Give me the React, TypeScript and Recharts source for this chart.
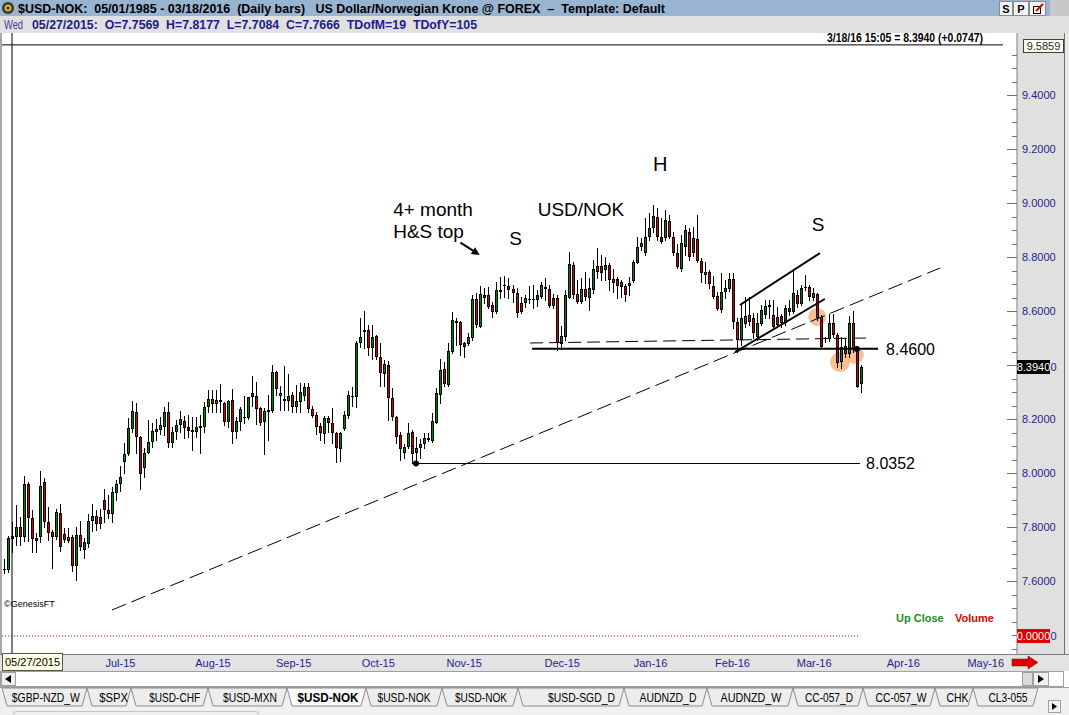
import React from "react";
import { ComposedChart, Bar, XAxis, YAxis, ReferenceLine, ReferenceDot } from "recharts";

// ---------------- DATA ----------------
const dates = [
  "5/25/15","5/26/15","5/27/15","5/28/15","5/29/15","6/1/15","6/2/15","6/3/15","6/4/15","6/5/15",
  "6/8/15","6/9/15","6/10/15","6/11/15","6/12/15","6/15/15","6/16/15","6/17/15","6/18/15","6/19/15",
  "6/22/15","6/23/15","6/24/15","6/25/15","6/26/15","6/29/15","6/30/15","7/1/15","7/2/15","7/3/15",
  "7/6/15","7/7/15","7/8/15","7/9/15","7/10/15","7/13/15","7/14/15","7/15/15","7/16/15","7/17/15",
  "7/20/15","7/21/15","7/22/15","7/23/15","7/24/15","7/27/15","7/28/15","7/29/15","7/30/15","7/31/15",
  "8/3/15","8/4/15","8/5/15","8/6/15","8/7/15","8/10/15","8/11/15","8/12/15","8/13/15","8/14/15",
  "8/17/15","8/18/15","8/19/15","8/20/15","8/21/15","8/24/15","8/25/15","8/26/15","8/27/15","8/28/15",
  "8/31/15","9/1/15","9/2/15","9/3/15","9/4/15","9/7/15","9/8/15","9/9/15","9/10/15","9/11/15",
  "9/14/15","9/15/15","9/16/15","9/17/15","9/18/15","9/21/15","9/22/15","9/23/15","9/24/15","9/25/15",
  "9/28/15","9/29/15","9/30/15","10/1/15","10/2/15","10/5/15","10/6/15","10/7/15","10/8/15","10/9/15",
  "10/12/15","10/13/15","10/14/15","10/15/15","10/16/15","10/19/15","10/20/15","10/21/15","10/22/15","10/23/15",
  "10/26/15","10/27/15","10/28/15","10/29/15","10/30/15","11/2/15","11/3/15","11/4/15","11/5/15","11/6/15",
  "11/9/15","11/10/15","11/11/15","11/12/15","11/13/15","11/16/15","11/17/15","11/18/15","11/19/15","11/20/15",
  "11/23/15","11/24/15","11/25/15","11/26/15","11/27/15","11/30/15","12/1/15","12/2/15","12/3/15","12/4/15",
  "12/7/15","12/8/15","12/9/15","12/10/15","12/11/15","12/14/15","12/15/15","12/16/15","12/17/15","12/18/15",
  "12/21/15","12/22/15","12/23/15","12/24/15","12/28/15","12/29/15","12/30/15","12/31/15","1/4/16","1/5/16",
  "1/6/16","1/7/16","1/8/16","1/11/16","1/12/16","1/13/16","1/14/16","1/15/16","1/18/16","1/19/16",
  "1/20/16","1/21/16","1/22/16","1/25/16","1/26/16","1/27/16","1/28/16","1/29/16","2/1/16","2/2/16",
  "2/3/16","2/4/16","2/5/16","2/8/16","2/9/16","2/10/16","2/11/16","2/12/16","2/15/16","2/16/16",
  "2/17/16","2/18/16","2/19/16","2/21/16","2/22/16","2/23/16","2/24/16","2/25/16","2/26/16","2/28/16",
  "2/29/16","3/1/16","3/2/16","3/3/16","3/4/16","3/7/16","3/8/16","3/9/16","3/10/16","3/11/16",
  "3/14/16","3/15/16","3/16/16","3/17/16","3/18/16"
];

const opens = [
  7.641,7.640,7.7569,7.764,7.799,7.764,7.959,7.832,7.749,7.764,
  7.965,7.820,7.780,7.762,7.851,7.773,7.749,7.764,7.656,7.770,
  7.715,7.737,7.823,7.841,7.810,7.900,7.863,7.847,7.925,7.959,
  8.042,8.070,8.163,8.225,8.135,8.017,8.075,8.116,8.153,8.161,
  8.172,8.225,8.110,8.153,8.176,8.193,8.172,8.159,8.153,8.175,
  8.169,8.243,8.274,8.254,8.270,8.258,8.190,8.270,8.153,8.190,
  8.203,8.202,8.280,8.286,8.240,8.190,8.227,8.230,8.373,8.295,
  8.268,8.268,8.288,8.245,8.264,8.286,8.317,8.236,8.215,8.174,
  8.143,8.202,8.187,8.147,8.088,8.162,8.211,8.283,8.283,8.480,
  8.524,8.529,8.462,8.507,8.428,8.365,8.400,8.276,8.206,8.141,
  8.073,8.095,8.153,8.073,8.091,8.107,8.131,8.120,8.186,8.289,
  8.384,8.326,8.449,8.564,8.561,8.480,8.478,8.499,8.643,8.542,
  8.647,8.659,8.622,8.597,8.678,8.693,8.693,8.680,8.665,8.631,
  8.628,8.645,8.641,8.641,8.653,8.680,8.680,8.650,8.650,8.478,
  8.505,8.650,8.770,8.663,8.635,8.680,8.650,8.678,8.746,8.767,
  8.752,8.770,8.717,8.717,8.688,8.693,8.693,8.712,8.779,8.836,
  8.813,8.873,8.906,8.947,8.875,8.869,8.934,8.875,8.814,8.754,
  8.838,8.894,8.869,8.865,8.786,8.733,8.746,8.693,8.656,8.604,
  8.672,8.680,8.717,8.560,8.493,8.553,8.585,8.573,8.505,8.552,
  8.585,8.616,8.585,8.548,8.581,8.557,8.598,8.598,8.659,8.626,
  8.684,8.690,8.647,8.662,8.577,8.496,8.495,8.554,8.511,8.412,
  8.470,8.440,8.554,8.460,8.330
];

const highs = [
  7.680,7.765,7.8177,7.881,7.836,7.989,7.968,7.863,7.777,8.007,
  7.980,7.875,7.789,7.866,7.885,7.795,7.795,7.770,7.801,7.823,
  7.758,7.850,7.884,7.863,7.865,7.940,7.918,7.949,7.974,8.026,
  8.110,8.202,8.267,8.258,8.137,8.091,8.196,8.186,8.199,8.206,
  8.246,8.262,8.172,8.196,8.231,8.211,8.215,8.209,8.206,8.215,
  8.264,8.307,8.307,8.307,8.330,8.264,8.270,8.311,8.209,8.246,
  8.285,8.283,8.359,8.338,8.246,8.239,8.289,8.400,8.379,8.322,
  8.396,8.366,8.301,8.326,8.332,8.332,8.332,8.248,8.227,8.184,
  8.211,8.211,8.242,8.153,8.153,8.231,8.305,8.317,8.490,8.573,
  8.600,8.548,8.548,8.511,8.483,8.418,8.416,8.313,8.211,8.153,
  8.107,8.184,8.159,8.135,8.125,8.147,8.147,8.221,8.314,8.421,
  8.412,8.480,8.597,8.573,8.564,8.486,8.520,8.659,8.665,8.693,
  8.684,8.688,8.634,8.709,8.725,8.730,8.721,8.696,8.684,8.653,
  8.659,8.693,8.696,8.678,8.709,8.721,8.696,8.663,8.659,8.545,
  8.678,8.820,8.783,8.715,8.721,8.746,8.721,8.789,8.832,8.807,
  8.801,8.776,8.754,8.727,8.715,8.700,8.727,8.789,8.875,8.869,
  8.943,8.964,8.992,8.980,8.943,8.974,8.955,8.894,8.848,8.881,
  8.919,8.906,8.912,8.955,8.795,8.783,8.752,8.730,8.672,8.739,
  8.715,8.739,8.739,8.573,8.622,8.653,8.653,8.591,8.591,8.622,
  8.641,8.641,8.641,8.616,8.589,8.622,8.641,8.754,8.678,8.696,
  8.733,8.696,8.684,8.665,8.585,8.505,8.589,8.589,8.520,8.505,
  8.500,8.580,8.601,8.470,8.400
];

const lows = [
  7.628,7.634,7.7084,7.733,7.733,7.749,7.749,7.709,7.709,7.746,
  7.801,7.752,7.647,7.754,7.712,7.746,7.746,7.638,7.604,7.715,
  7.684,7.727,7.786,7.789,7.795,7.820,7.832,7.820,7.900,7.934,
  8.001,8.067,8.153,8.073,7.940,7.986,8.073,8.098,8.122,8.144,
  8.141,8.095,8.095,8.125,8.153,8.128,8.135,8.085,8.135,8.075,
  8.153,8.227,8.227,8.227,8.227,8.178,8.172,8.112,8.128,8.159,
  8.184,8.199,8.248,8.181,8.178,8.070,8.122,8.227,8.289,8.233,
  8.233,8.233,8.227,8.227,8.227,8.270,8.227,8.206,8.144,8.122,
  8.112,8.153,8.110,8.042,8.046,8.159,8.202,8.248,8.243,8.468,
  8.462,8.437,8.421,8.421,8.322,8.322,8.196,8.196,8.110,8.050,
  8.054,8.091,8.038,8.0352,8.054,8.091,8.120,8.116,8.184,8.261,
  8.322,8.322,8.443,8.474,8.437,8.428,8.474,8.493,8.542,8.539,
  8.628,8.610,8.579,8.591,8.647,8.653,8.647,8.635,8.576,8.591,
  8.616,8.628,8.610,8.619,8.647,8.641,8.616,8.610,8.456,8.458,
  8.493,8.647,8.647,8.628,8.628,8.641,8.604,8.666,8.721,8.715,
  8.715,8.678,8.672,8.647,8.653,8.638,8.659,8.709,8.776,8.826,
  8.807,8.863,8.894,8.863,8.851,8.863,8.869,8.807,8.758,8.749,
  8.807,8.789,8.804,8.783,8.709,8.703,8.684,8.647,8.604,8.598,
  8.647,8.675,8.536,8.450,8.474,8.542,8.548,8.499,8.493,8.548,
  8.573,8.573,8.536,8.542,8.540,8.548,8.585,8.591,8.616,8.622,
  8.678,8.641,8.641,8.567,8.465,8.487,8.490,8.505,8.394,8.388,
  8.430,8.430,8.450,8.317,8.301
];

const closes = [
  7.643,7.760,7.7666,7.799,7.764,7.959,7.832,7.754,7.760,7.952,
  7.820,7.779,7.762,7.854,7.727,7.752,7.764,7.656,7.770,7.725,
  7.743,7.822,7.841,7.810,7.836,7.863,7.850,7.928,7.959,7.984,
  8.069,8.165,8.230,8.132,7.995,8.075,8.116,8.155,8.163,8.178,
  8.227,8.110,8.153,8.178,8.200,8.168,8.157,8.153,8.169,8.168,
  8.246,8.273,8.256,8.270,8.262,8.190,8.267,8.153,8.193,8.236,
  8.209,8.280,8.295,8.236,8.184,8.229,8.233,8.373,8.310,8.286,
  8.274,8.285,8.243,8.267,8.301,8.317,8.236,8.211,8.169,8.147,
  8.202,8.186,8.147,8.091,8.147,8.215,8.289,8.286,8.483,8.502,
  8.529,8.462,8.502,8.431,8.372,8.402,8.276,8.206,8.135,8.088,
  8.098,8.147,8.070,8.091,8.107,8.131,8.122,8.194,8.295,8.381,
  8.330,8.453,8.567,8.557,8.474,8.468,8.502,8.643,8.548,8.662,
  8.659,8.616,8.597,8.678,8.672,8.696,8.678,8.665,8.594,8.597,
  8.647,8.641,8.646,8.659,8.696,8.688,8.619,8.619,8.480,8.507,
  8.659,8.773,8.659,8.635,8.680,8.653,8.684,8.754,8.767,8.739,
  8.770,8.715,8.705,8.693,8.709,8.659,8.705,8.783,8.836,8.851,
  8.873,8.906,8.952,8.875,8.857,8.937,8.875,8.814,8.764,8.853,
  8.900,8.799,8.814,8.786,8.739,8.746,8.700,8.653,8.606,8.672,
  8.686,8.717,8.560,8.493,8.573,8.581,8.560,8.520,8.557,8.604,
  8.619,8.622,8.540,8.577,8.554,8.610,8.610,8.665,8.626,8.684,
  8.690,8.653,8.668,8.573,8.468,8.500,8.554,8.511,8.406,8.468,
  8.440,8.554,8.460,8.320,8.394
];

const monthLabels = ["Jul-15","Aug-15","Sep-15","Oct-15","Nov-15","Dec-15","Jan-16","Feb-16","Mar-16","Apr-16","May-16"];
const monthTickPos = [29.09, 52.2, 72.35, 93.48, 114.94, 139.41, 161.47, 181.94, 202.35, 224.6, 245.2];
const majorPriceTicks = [7.6, 7.8, 8.0, 8.2, 8.4, 8.6, 8.8, 9.0, 9.2, 9.4];
const tabNames = ["$GBP-NZD_W","$SPX","$USD-CHF","$USD-MXN","$USD-NOK","$USD-NOK","$USD-NOK","$USD-SGD_D","AUDNZD_D","AUDNZD_W","CC-057_D","CC-057_W","CHK","CL3-055"];

// ---------------- LAYOUT CONSTANTS ----------------
const N_SLOTS = 253;
const Y_MIN = 7.325926;
const Y_MAX = 9.62963;
const LAST_PRICE = 8.394;
const tabEdges = [2, 87, 131, 208, 287, 366, 442, 518, 624, 707, 793, 863, 935, 973, 1038];
const tabTextCenter = [45.8, 113.7, 174.7, 250, 328, 404, 481, 581.5, 668, 751, 829, 901, 957.5, 1008];
const tabTextWidth = [68, 29, 51, 54, 61, 53, 52, 67, 57, 61, 48, 51, 22, 39];
const minorTicks = Array.from({ length: 45 }, (_, k) => +(7.35 + k * 0.05).toFixed(2));

const chartData = Array.from({ length: N_SLOTS }, (_, i) =>
  i < dates.length
    ? { i, date: dates[i], o: opens[i], h: highs[i], l: lows[i], c: closes[i], range: [lows[i], highs[i]] }
    : { i, date: "", o: null, h: null, l: null, c: null, range: null }
);

const FONT = "Arial, 'Liberation Sans', sans-serif";

function Candle(props: any) {
  const { x, y, width, height, payload } = props;
  if (!payload || payload.h == null || x == null || y == null) return <g />;
  const top = Math.min(y, y + height);
  const bot = Math.max(y, y + height);
  const span = payload.h - payload.l;
  const toPx = (p: number) => (span > 0 ? top + ((payload.h - p) / span) * (bot - top) : top);
  const cx = Math.round(x + width / 2 - 0.5) + 0.5;
  const up = payload.c >= payload.o;
  const bTop = Math.round(toPx(Math.max(payload.o, payload.c)));
  const bBot = Math.round(toPx(Math.min(payload.o, payload.c)));
  const color = up ? "#008000" : "#D00000";
  const h = bBot - bTop;
  return (
    <g>
      <line x1={cx} x2={cx} y1={Math.round(top)} y2={Math.round(bot) + 1} stroke="#000" strokeWidth={1} />
      {h >= 2 ? (
        <rect x={cx - 1} y={bTop + 0.5} width={2} height={h - 1} fill={color} stroke="#000" strokeWidth={1} />
      ) : (
        <line x1={cx - 1.5} x2={cx + 1.5} y1={bTop + 0.5} y2={bTop + 0.5} stroke="#000" strokeWidth={1} />
      )}
    </g>
  );
}

function YTick(props: any) {
  const { x, y, payload } = props;
  const v = payload.value;
  const major = majorPriceTicks.some((m) => Math.abs(m - v) < 1e-6);
  const hidden = Math.abs(v - 8.4) < 1e-6; // covered by the last-price box
  const yy = Math.round(y) + 0.5;
  return (
    <g>
      <line x1={x - (major ? 10 : 5)} x2={x} y1={yy} y2={yy} stroke="#707070" strokeWidth={1} />
      {major && !hidden && (
        <text x={x + 5} y={y + 4} fontSize={11} fill="#23238C" fontFamily={FONT}>
          {v.toFixed(4)}
        </text>
      )}
    </g>
  );
}

const monthShape = (txt: string) => (p: any) => (
  <text x={p.cx} y={p.cy + 11.5} textAnchor="middle" fontSize={11} fill="#23238C" fontFamily={FONT}>
    {txt}
  </text>
);

const textShape = (txt: string, size: number, anchor: string = "middle") => (p: any) => (
  <text x={p.cx} y={p.cy} fontSize={size} textAnchor={anchor} dominantBaseline="central" fontFamily={FONT} fill="#000">
    {txt}
  </text>
);

const lastPriceShape = (p: any) => (
  <g>
    <rect x={1017} y={Math.round(p.cy) - 7} width={33} height={14} fill="#000" />
    <text x={1033.5} y={Math.round(p.cy) + 4} fontSize={11} textAnchor="middle" fontFamily={FONT} fill="#fff">
      {LAST_PRICE.toFixed(4)}
    </text>
    <text x={1050.5} y={Math.round(p.cy) + 4} fontSize={11} fontFamily={FONT} fill="#23238C">0</text>
  </g>
);

function ArrowShape(p: any) {
  const { x1, y1, x2, y2 } = p;
  if (x1 == null) return <g />;
  const ang = Math.atan2(y2 - y1, x2 - x1);
  const L = 8, W = 4;
  const bx = x2 - L * Math.cos(ang), by = y2 - L * Math.sin(ang);
  const px = -Math.sin(ang) * W, py = Math.cos(ang) * W;
  return (
    <g>
      <line x1={x1} y1={y1} x2={bx} y2={by} stroke="#000" strokeWidth={2} />
      <polygon points={`${x2},${y2} ${bx + px},${by + py} ${bx - px},${by - py}`} fill="#000" />
    </g>
  );
}

const orangeDot = (p: any) => <circle cx={p.cx} cy={p.cy} r={p.r} fill="#F6A868" fillOpacity={0.72} />;
const blackDot = (p: any) => <circle cx={p.cx} cy={p.cy} r={3} fill="#000" />;

export default function App() {
  const ax = { xAxisId: "num", yAxisId: "p" } as any;
  return (
    <div style={{ position: "absolute", left: 0, top: 0, width: 1069, height: 715, overflow: "hidden", background: "#fff", fontFamily: FONT }}>
      {/* ---------- chrome background ---------- */}
      <svg width={1069} height={715} style={{ position: "absolute", left: 0, top: 0 }}>
        <rect x={0} y={0} width={1069} height={16} fill="#99B4D1" />
        <circle cx={8} cy={8} r={6} fill="#3A3420" />
        <circle cx={8} cy={8} r={3.5} fill="#D9B24A" />
        <circle cx={8} cy={8} r={1.5} fill="#3A3420" />
        <text x={18} y={12.5} fontSize={13} fontWeight="bold" fontFamily={FONT} fill="#000" textLength={647} lengthAdjust="spacingAndGlyphs" style={{ whiteSpace: "pre" }}>
          {"$USD-NOK:  05/01/1985 - 03/18/2016  (Daily bars)   US Dollar/Norwegian Krone @ FOREX  \u2013  Template: Default"}
        </text>
        <rect x={999.5} y={1.5} width={13} height={14} fill="#F4F4F4" stroke="#8A8A8A" />
        <text x={1006} y={12.5} fontSize={11} fontWeight="bold" textAnchor="middle" fontFamily={FONT}>S</text>
        <rect x={1013.5} y={1.5} width={15} height={14} fill="#F4F4F4" stroke="#8A8A8A" />
        <text x={1021} y={12.5} fontSize={11} fontWeight="bold" textAnchor="middle" fontFamily={FONT}>P</text>
        <rect x={1029.5} y={1.5} width={16} height={14} fill="#F4F4F4" stroke="#8A8A8A" />
        <rect x={1033.5} y={6.5} width={7} height={7} fill="#fff" stroke="#000" />
        <line x1={1036} y1={11} x2={1043} y2={4} stroke="#E00000" strokeWidth={2} />
        <rect x={1050} y={0} width={19} height={16} fill="#C8C8C8" />

        <rect x={0} y={16} width={1069} height={17} fill="#E0E0E0" />
        <text x={4} y={29} fontSize={12} fontFamily={FONT} fill="#3C3C9A" textLength={19} lengthAdjust="spacingAndGlyphs">Wed</text>
        <text x={32} y={29} fontSize={12.5} fontWeight="bold" fontFamily={FONT} fill="#1C1C8A" textLength={445} lengthAdjust="spacingAndGlyphs" style={{ whiteSpace: "pre" }}>
          {"05/27/2015:  O=7.7569  H=7.8177  L=7.7084  C=7.7666  TDofM=19  TDofY=105"}
        </text>

        <rect x={0} y={33} width={2} height={622} fill="#A8A8A8" />
        <rect x={1017} y={33} width={47} height={622} fill="#E0E0E0" />
        <rect x={1064} y={33} width={1} height={622} fill="#707070" />
        <rect x={1065} y={33} width={4} height={622} fill="#E8E8E8" />

        <text x={827} y={42} fontSize={12.5} fontWeight="bold" fontFamily={FONT} fill="#000" textLength={156} lengthAdjust="spacingAndGlyphs">
          3/18/16 15:05 = 8.3940 (+0.0747)
        </text>

        <text x={4} y={607} fontSize={9} fontFamily={FONT} fill="#000">©GenesisFT</text>
        <text x={896} y={622} fontSize={11} fontWeight="bold" fontFamily={FONT} fill="#1E8C1E">Up Close</text>
        <text x={955} y={622} fontSize={11} fontWeight="bold" fontFamily={FONT} fill="#E00000">Volume</text>

        {/* x-axis strip */}
        <rect x={0} y={655} width={1069} height={16} fill="#E3E3E3" />
        <line x1={0} y1={654.5} x2={1069} y2={654.5} stroke="#7A7A7A" />
        <polygon points="1012,659 1028,659 1028,656 1038,662.5 1028,669 1028,666 1012,666" fill="#E00000" stroke="#900000" strokeWidth={0.5} />

        {/* scrollbar */}
        <rect x={0.5} y={671.5} width={1063} height={15} fill="#fff" stroke="#A0A0A0" />
        <rect x={1.5} y={672.5} width={14} height={13} fill="#F0F0F0" stroke="#A0A0A0" />
        <polygon points="5,679 11,675 11,683" fill="#000" />
        <rect x={1022.5} y={672.5} width={10} height={13} fill="#DADADA" stroke="#A0A0A0" />
        <rect x={1033.5} y={672.5} width={15} height={13} fill="#F0F0F0" stroke="#A0A0A0" />
        <polygon points="1044,679 1038,675 1038,683" fill="#000" />

        {/* tabs */}
        <rect x={0} y={687} width={1069} height={28} fill="#F0F0F0" />
        <line x1={0} y1={687.5} x2={1069} y2={687.5} stroke="#A0A0A0" />
        {tabNames.map((name, k) => {
          const l = tabEdges[k];
          const r = tabEdges[k + 1];
          const active = k === 4;
          return (
            <g key={k}>
              <polygon
                points={`${l},688 ${r},688 ${r - 5},706 ${l + 5},706`}
                fill={active ? "#FAFAFA" : "#EDEDED"}
                stroke="#8C8C8C"
                strokeWidth={1}
              />
              <text
                x={tabTextCenter[k]}
                y={702}
                fontSize={13}
                fontWeight={active ? "bold" : "normal"}
                textAnchor="middle"
                fontFamily={FONT}
                fill="#000"
                textLength={tabTextWidth[k]}
                lengthAdjust="spacingAndGlyphs"
              >
                {name}
              </text>
            </g>
          );
        })}
        <rect x={1048.5} y={700.5} width={12} height={12} fill="#F0F0F0" stroke="#A0A0A0" />
        <polygon points="1057,706.5 1052,703 1052,710" fill="#000" />
        <rect x={13.5} y={711.5} width={245} height={10} rx={3} fill="none" stroke="#B8C8E0" />
      </svg>

      {/* ---------- chart ---------- */}
      <div style={{ position: "absolute", left: 0, top: 33 }}>
        <ComposedChart width={1069} height={640} data={chartData} margin={{ top: 0, right: 0, bottom: 0, left: 2 }}>
          <XAxis xAxisId="cat" dataKey="i" type="category" hide padding={{ left: 0, right: 2 }} />
          <XAxis
            xAxisId="num"
            dataKey="i"
            type="number"
            domain={[-0.5, 252.5]}
            allowDataOverflow
            ticks={monthTickPos}
            interval={0}
            tick={false}
            tickLine={false}
            axisLine={false}
            height={18}
            padding={{ left: 0, right: 2 }}
          />
          <YAxis
            yAxisId="p"
            orientation="right"
            type="number"
            width={52}
            domain={[Y_MIN, Y_MAX]}
            allowDataOverflow
            ticks={minorTicks}
            interval={0}
            tick={<YTick />}
            tickLine={false}
            tickSize={0}
            tickMargin={0}
            axisLine={{ stroke: "#808080" }}
          />

          {/* orange highlight circles (behind candles) */}
          <ReferenceDot {...ax} x={203.1} y={8.578} r={9} shape={orangeDot} zIndex={50} />
          <ReferenceDot {...ax} x={208.8} y={8.411} r={10} shape={orangeDot} zIndex={50} />
          <ReferenceDot {...ax} x={212.5} y={8.437} r={9} shape={orangeDot} zIndex={50} />

          {/* trend / pattern lines */}
          <ReferenceLine {...ax} segment={[{ x: 26.97, y: 7.4926 }, { x: 233.8, y: 8.7593 }]} stroke="#000" strokeDasharray="15 6" strokeWidth={1} />
          <ReferenceLine {...ax} segment={[{ x: 131.4, y: 8.4815 }, { x: 215.8, y: 8.5 }]} stroke="#000" strokeDasharray="13 6" strokeWidth={1} />
          <ReferenceLine {...ax} segment={[{ x: 131.9, y: 8.46 }, { x: 218.3, y: 8.46 }]} stroke="#000" strokeWidth={2} />
          <ReferenceLine {...ax} segment={[{ x: 102.9, y: 8.0352 }, { x: 213.8, y: 8.0352 }]} stroke="#000" strokeWidth={1} />
          <ReferenceLine {...ax} segment={[{ x: 183.8, y: 8.6222 }, { x: 203.8, y: 8.8148 }]} stroke="#000" strokeWidth={2} />
          <ReferenceLine {...ax} segment={[{ x: 182.6, y: 8.4481 }, { x: 205.0, y: 8.6444 }]} stroke="#000" strokeWidth={2} />
          <ReferenceLine {...ax} segment={[{ x: -0.5, y: 9.5856 }, { x: 249.5, y: 9.5856 }]} stroke="#000" strokeWidth={1} />
          <ReferenceLine {...ax} segment={[{ x: -0.5, y: 7.3963 }, { x: 213.8, y: 7.3963 }]} stroke="#E00000" strokeDasharray="1 2" strokeWidth={1} />
          <ReferenceLine {...ax} x={2} stroke="#000" strokeWidth={1} />
          <ReferenceLine {...ax} segment={[{ x: 114.0, y: 8.853 }, { x: 118.8, y: 8.8074 }]} shape={ArrowShape} />

          <Bar xAxisId="cat" yAxisId="p" dataKey="range" barSize={3} shape={<Candle />} isAnimationActive={false} />

          <ReferenceDot {...ax} x={102.9} y={8.0352} r={3} shape={blackDot} />
          <ReferenceDot {...ax} x={213.0} y={8.459} r={3} shape={blackDot} />

          {/* annotations */}
          <ReferenceDot {...ax} x={97.2} y={8.975} r={1} shape={textShape("4+ month", 19, "start")} />
          <ReferenceDot {...ax} x={97.2} y={8.896} r={1} shape={textShape("H&S top", 19, "start")} />
          <ReferenceDot {...ax} x={127.8} y={8.87} r={1} shape={textShape("S", 19)} />
          <ReferenceDot {...ax} x={144.1} y={8.976} r={1} shape={textShape("USD/NOK", 19)} />
          <ReferenceDot {...ax} x={163.9} y={9.144} r={1} shape={textShape("H", 20)} />
          <ReferenceDot {...ax} x={203.3} y={8.922} r={1} shape={textShape("S", 19)} />
          <ReferenceDot {...ax} x={220.3} y={8.459} r={1} shape={textShape("8.4600", 16, "start")} />
          <ReferenceDot {...ax} x={215.3} y={8.037} r={1} shape={textShape("8.0352", 16, "start")} />

          {/* last price marker on the price scale */}
          <ReferenceDot {...ax} x={240} y={LAST_PRICE} r={1} ifOverflow="visible" shape={lastPriceShape} />

          {/* month labels on the time scale */}
          {monthLabels.map((m, k) => (
            <ReferenceDot key={m} {...ax} x={monthTickPos[k]} y={Y_MIN} r={1} ifOverflow="visible" shape={monthShape(m)} />
          ))}
        </ComposedChart>
      </div>

      {/* ---------- overlay labels ---------- */}
      <svg width={1069} height={715} style={{ position: "absolute", left: 0, top: 0, pointerEvents: "none" }}>
        <rect x={1023.5} y={39.5} width={40} height={13} fill="#FFFFE1" stroke="#404040" />
        <text x={1043.5} y={50} fontSize={11} textAnchor="middle" fontFamily={FONT} fill="#1C1C5A">9.5859</text>
        <rect x={1017} y={629} width={33} height={14} fill="#E00000" />
        <text x={1033.5} y={640} fontSize={11} textAnchor="middle" fontFamily={FONT} fill="#fff">0.0000</text>
        <text x={1050.5} y={640} fontSize={11} fontFamily={FONT} fill="#23238C">0</text>
        <rect x={2.5} y={653.5} width={60} height={17} fill="#FFFFE1" stroke="#555" />
        <text x={32.5} y={666} fontSize={11} textAnchor="middle" fontFamily={FONT} fill="#000">05/27/2015</text>
      </svg>
    </div>
  );
}
